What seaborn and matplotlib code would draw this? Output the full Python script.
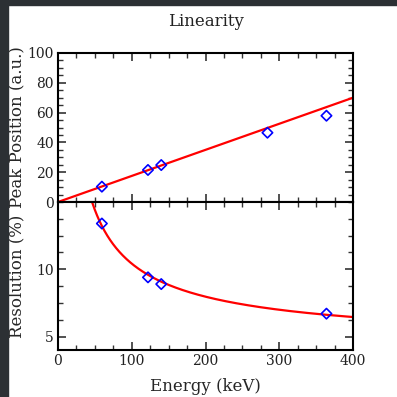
import numpy as np
import pandas as pd
import seaborn as sns
import matplotlib
matplotlib.use("Agg")
import matplotlib.pyplot as plt
from matplotlib.patches import Rectangle
from matplotlib.ticker import MultipleLocator

# Peak positions of calibration lines
energy_lin = [59.5, 122.0, 140.0, 284.0, 364.0]          # keV
peak_pos = [10.3, 21.5, 24.8, 46.5, 57.9]                # a.u.

# Energy resolution of the same lines
energy_res = [59.5, 122.0, 140.0, 364.0]                 # keV
resolution = [13.4, 9.4, 8.9, 6.7]                       # %

# Fit parameters
lin_slope, lin_offset = 0.175, 0.0                       # peak = slope*E + offset
res_amp, res_exp, res_const = 160.5, -0.7, 4.03          # R = amp*E^exp + const

sns.set_style("ticks")
plt.rcParams["font.family"] = ["DejaVu Serif"]
plt.rcParams["text.color"] = "#222222"

fig = plt.figure(figsize=(3.97, 3.97), dpi=100)
fig.patch.set_facecolor("white")

# dark frame strips along the top and left edges
dark = "#2c3034"
fig.patches.append(Rectangle((0, 1 - 5 / 397), 1, 5 / 397, transform=fig.transFigure,
                             color=dark, zorder=0))
fig.patches.append(Rectangle((0, 0), 8 / 397, 1, transform=fig.transFigure,
                             color=dark, zorder=0))

W = H = 397.0
left, right = 58 / W, 353 / W
ax_top = fig.add_axes([left, (H - 202) / H, right - left, 149 / H])
ax_bot = fig.add_axes([left, (H - 350) / H, right - left, 148 / H], sharex=ax_top)

e_fit = np.linspace(0, 400, 400)
lin_df = pd.DataFrame({"E": e_fit, "P": lin_slope * e_fit + lin_offset})
e_res = np.linspace(20, 400, 600)
res_df = pd.DataFrame({"E": e_res, "R": res_amp * e_res ** res_exp + res_const})

sns.lineplot(data=lin_df, x="E", y="P", ax=ax_top, color="red", lw=1.6, zorder=2)
sns.scatterplot(x=energy_lin, y=peak_pos, ax=ax_top, marker="D", s=28,
                facecolors="none", edgecolor="blue", linewidth=1.2, zorder=3)

sns.lineplot(data=res_df, x="E", y="R", ax=ax_bot, color="red", lw=1.6, zorder=2)
sns.scatterplot(x=energy_res, y=resolution, ax=ax_bot, marker="D", s=28,
                facecolors="none", edgecolor="blue", linewidth=1.2, zorder=3)

ax_top.set_xlim(0, 400)
ax_top.set_ylim(0, 100)
ax_bot.set_ylim(4, 15)

ax_top.xaxis.set_major_locator(MultipleLocator(100))
ax_top.xaxis.set_minor_locator(MultipleLocator(25))
ax_top.yaxis.set_major_locator(MultipleLocator(20))
ax_top.yaxis.set_minor_locator(MultipleLocator(5))
ax_bot.set_yticks([5, 10])
ax_bot.yaxis.set_minor_locator(MultipleLocator(1.25))

for ax in (ax_top, ax_bot):
    for s in ax.spines.values():
        s.set_visible(True)
        s.set_linewidth(1.5)
        s.set_color("black")
    ax.tick_params(which="both", direction="in", top=True, right=True,
                   colors="#222222", labelsize=10, pad=3)
    ax.tick_params(which="major", length=6, width=1.2, color="#333333")
    ax.tick_params(which="minor", length=3.3, width=1.0, color="#333333")
    ax.set_xlabel("")
    ax.set_ylabel("")

ax_top.tick_params(labelbottom=False)
ax_top.set_ylabel("Peak Position (a.u.)", fontsize=12)
ax_bot.set_ylabel("Resolution (%)", fontsize=12)
ax_bot.set_xlabel("Energy (keV)", fontsize=12, labelpad=7)
ax_top.yaxis.set_label_coords(-0.11, 0.5)
ax_bot.yaxis.set_label_coords(-0.11, 0.5)

fig.text((left + right) / 2, 1 - 21.5 / H, "Linearity", ha="center", va="center",
         fontsize=12)

fig.savefig("out.png", dpi=100)
